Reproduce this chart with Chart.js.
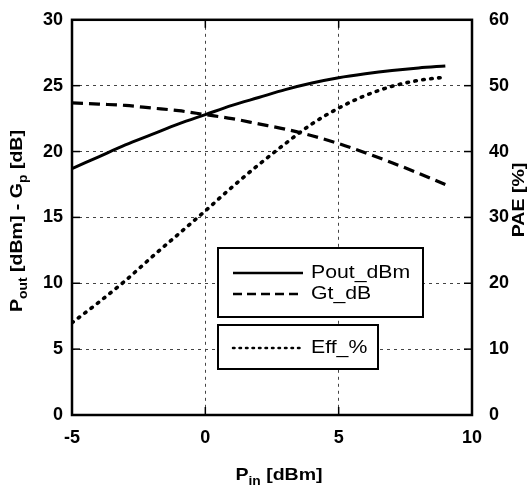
<!DOCTYPE html>
<html>
<head>
<meta charset="utf-8">
<script src="https://cdn.jsdelivr.net/npm/chart.js@4.4.1/dist/chart.umd.min.js"></script>
<style>
    html, body { margin: 0; padding: 0; background: #fff; }
    #wrap { width: 529px; height: 493px; position: relative; }
</style>
</head>
<body>
<div id="wrap"><canvas id="chart"></canvas></div>
<script>
// input power sweep [dBm]
const pin = [-5, -4, -3, -2, -1, 0, 1, 2, 3, 4, 5, 6, 7, 8, 9];
// output power [dBm]
const poutDbm = [18.7, 19.6, 20.5, 21.3, 22.1, 22.8, 23.5, 24.1, 24.7, 25.2, 25.6, 25.9, 26.15, 26.35, 26.5];
// transducer gain [dB]
const gtDb = [23.7, 23.6, 23.5, 23.3, 23.1, 22.8, 22.5, 22.1, 21.7, 21.2, 20.6, 19.9, 19.15, 18.35, 17.5];
// power added efficiency [%]
const effPct = [14.0, 17.1, 20.4, 24.0, 27.5, 31.0, 34.6, 38.0, 41.2, 44.2, 46.6, 48.5, 49.9, 50.8, 51.3];

const xTicks = [-5, 0, 5, 10];
const yTicks = [0, 5, 10, 15, 20, 25, 30];
const y1Ticks = [0, 10, 20, 30, 40, 50, 60];

const TICK_FONT = { family: 'Arial, "Liberation Sans"', size: 18, weight: 'bold' };
const TEXT_FAMILY = 'Arial, "Liberation Sans"';
const STRETCH = 1.15;

const toPoints = (ys) => pin.map((x, i) => ({ x: x, y: ys[i] }));

// text with subscripts, centred on (0,0) of the current transform
function drawRuns(ctx, runs, size) {
    const subSize = Math.round(size * 0.7);
    let total = 0;
    runs.forEach(r => {
        ctx.font = 'bold ' + (r.sub ? subSize : size) + 'px ' + TEXT_FAMILY;
        r.w = ctx.measureText(r.text).width;
        total += r.w;
    });
    ctx.textBaseline = 'middle';
    ctx.textAlign = 'left';
    let x = -total / 2;
    runs.forEach(r => {
        ctx.font = 'bold ' + (r.sub ? subSize : size) + 'px ' + TEXT_FAMILY;
        ctx.fillText(r.text, x, r.sub ? 7 : 0);
        x += r.w;
    });
}

function line(ctx, x1, y1, x2, y2) {
    ctx.beginPath();
    ctx.moveTo(x1, y1);
    ctx.lineTo(x2, y2);
    ctx.stroke();
}

const decorations = {
    id: 'decorations',
    afterDraw(chart) {
        const { ctx, chartArea: a, scales } = chart;
        ctx.save();
        ctx.strokeStyle = '#000';
        ctx.fillStyle = '#000';

        // plot frame
        ctx.lineWidth = 2.5;
        ctx.strokeRect(a.left, a.top, a.width, a.height);

        // short inward ticks on all four sides
        ctx.lineWidth = 1.5;
        xTicks.forEach(v => {
            const px = scales.x.getPixelForValue(v);
            line(ctx, px, a.bottom, px, a.bottom - 8);
            line(ctx, px, a.top, px, a.top + 8);
        });
        yTicks.forEach(v => {
            const py = scales.y.getPixelForValue(v);
            line(ctx, a.left, py, a.left + 8, py);
            line(ctx, a.right, py, a.right - 8, py);
        });

        // axis titles
        ctx.save();
        ctx.translate((a.left + a.right) / 2 + 7, 475);
        ctx.scale(STRETCH, 1);
        drawRuns(ctx, [{ text: 'P' }, { text: 'in', sub: true }, { text: ' [dBm]' }], 17);
        ctx.restore();

        ctx.save();
        ctx.translate(17, 221);
        ctx.rotate(-Math.PI / 2);
        ctx.scale(STRETCH, 1);
        drawRuns(ctx, [
            { text: 'P' }, { text: 'out', sub: true }, { text: ' [dBm] - G' },
            { text: 'p', sub: true }, { text: ' [dB]' }
        ], 17);
        ctx.restore();

        ctx.save();
        ctx.translate(519, 200);
        ctx.rotate(-Math.PI / 2);
        ctx.scale(STRETCH, 1);
        drawRuns(ctx, [{ text: 'PAE [%]' }], 17);
        ctx.restore();

        // legend boxes
        const ds = chart.data.datasets;
        const boxes = [
            { x: 218, y: 248, w: 205, h: 69, items: [{ ds: ds[0], y: 273 }, { ds: ds[1], y: 294 }] },
            { x: 218, y: 325, w: 160, h: 44, items: [{ ds: ds[2], y: 348 }] }
        ];
        boxes.forEach(b => {
            ctx.fillStyle = '#fff';
            ctx.fillRect(b.x, b.y, b.w, b.h);
            ctx.lineWidth = 2;
            ctx.setLineDash([]);
            ctx.lineCap = 'butt';
            ctx.strokeStyle = '#000';
            ctx.strokeRect(b.x, b.y, b.w, b.h);
            b.items.forEach(it => {
                ctx.lineWidth = 2.5;
                ctx.lineCap = it.ds.borderCapStyle || 'butt';
                ctx.setLineDash(it.ds.legendDash || []);
                line(ctx, 233, it.y, 303, it.y);
                ctx.setLineDash([]);
                ctx.lineCap = 'butt';
                ctx.save();
                ctx.translate(311, it.y);
                ctx.scale(1.18, 1);
                ctx.fillStyle = '#000';
                ctx.font = '18px ' + TEXT_FAMILY;
                ctx.textBaseline = 'middle';
                ctx.textAlign = 'left';
                ctx.fillText(it.ds.label, 0, 0);
                ctx.restore();
            });
        });
        ctx.restore();
    }
};

const gridOpts = {
    color: '#444',
    lineWidth: 1,
    drawTicks: false
};

new Chart(document.getElementById('chart'), {
    type: 'line',
    data: {
        datasets: [{
            label: 'Pout_dBm',
            data: toPoints(poutDbm),
            yAxisID: 'y',
            borderColor: '#000',
            borderWidth: 3,
            cubicInterpolationMode: 'monotone',
            pointRadius: 0
        }, {
            label: 'Gt_dB',
            data: toPoints(gtDb),
            yAxisID: 'y',
            borderColor: '#000',
            borderWidth: 3.2,
            borderDash: [11, 6],
            legendDash: [9, 5],
            cubicInterpolationMode: 'monotone',
            pointRadius: 0
        }, {
            label: 'Eff_%',
            data: toPoints(effPct),
            yAxisID: 'y1',
            borderColor: '#000',
            borderWidth: 3.6,
            borderDash: [1.5, 6.5],
            borderCapStyle: 'round',
            legendDash: [1.5, 5],
            cubicInterpolationMode: 'monotone',
            pointRadius: 0
        }]
    },
    options: {
        responsive: true,
        maintainAspectRatio: false,
        animation: false,
        events: [],
        layout: { padding: { top: 17, left: 0, right: 0, bottom: 0 } },
        plugins: {
            legend: { display: false },
            tooltip: { enabled: false }
        },
        scales: {
            x: {
                type: 'linear',
                min: -5,
                max: 10,
                afterBuildTicks: (s) => { s.ticks = xTicks.map(v => ({ value: v })); },
                afterFit: (s) => { s.height = 78; },
                ticks: { font: TICK_FONT, color: '#000', padding: 12, maxRotation: 0 },
                grid: gridOpts,
                border: { display: false, dash: [3, 4] }
            },
            y: {
                position: 'left',
                min: 0,
                max: 30,
                afterBuildTicks: (s) => { s.ticks = yTicks.map(v => ({ value: v })); },
                afterFit: (s) => { s.width = 72; },
                ticks: { font: TICK_FONT, color: '#000', padding: 9 },
                grid: gridOpts,
                border: { display: false, dash: [3, 4] }
            },
            y1: {
                position: 'right',
                min: 0,
                max: 60,
                afterBuildTicks: (s) => { s.ticks = y1Ticks.map(v => ({ value: v })); },
                afterFit: (s) => { s.width = 57; },
                ticks: { font: TICK_FONT, color: '#000', padding: 9 },
                grid: { display: false },
                border: { display: false }
            }
        }
    },
    plugins: [decorations]
});
</script>
</body>
</html>
